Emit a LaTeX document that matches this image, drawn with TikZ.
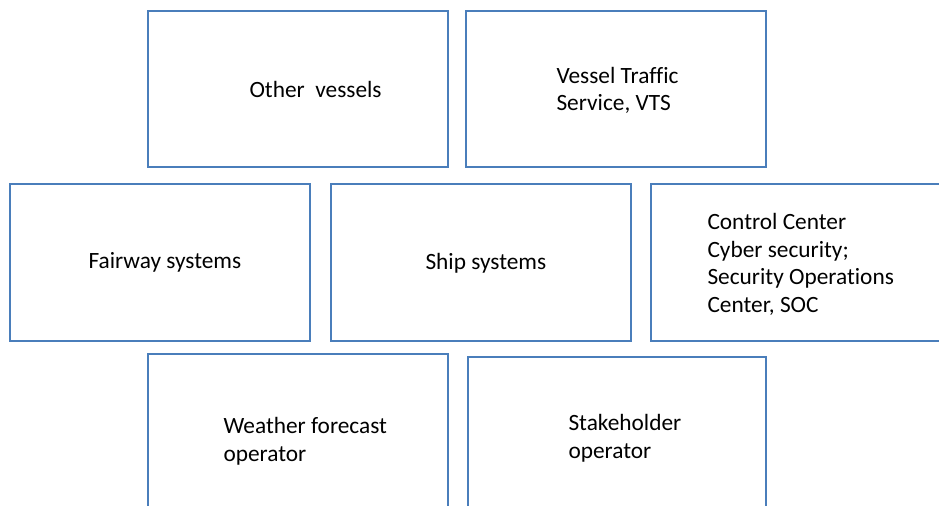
\documentclass[tikz,border=0pt]{standalone}
\usepackage{fontspec}
\setmainfont{Carlito}[Ligatures=NoCommon]
\usepackage{tikz}
\definecolor{boxblue}{RGB}{74,126,187}
\tikzset{every picture/.style={line width=0.75pt}}
\tikzset{
  frame/.style={draw=boxblue,line width=1.1pt},
  lbl/.style={anchor=base west,inner sep=0pt,align=left,font=\fontsize{17.5}{20.6}\selectfont}
}

\begin{document}
\begin{tikzpicture}[x=0.75pt,y=0.75pt,yscale=-1,xscale=1]
\clip (0,0) rectangle (939,506);
\useasboundingbox (0,0) rectangle (939,506);
% top row
\draw [frame] (148,11) rectangle (448,167);
\draw [frame] (466,11) rectangle (766,167);
% middle row
\draw [frame] (10,184) rectangle (310,341);
\draw [frame] (331,184) rectangle (631,341);
\draw [frame] (651,184) rectangle (950,341);
% bottom row
\draw [frame] (148,520) -- (148,354) -- (448,354) -- (448,520);
\draw [frame] (468,520) -- (468,357) -- (766,357) -- (766,520);
% labels (base = last line)
\node [lbl] (vessels) at (249,98) {Other\ \ vessels};
\node [lbl] (vts) at (556,111) {Vessel Traffic\\Service, VTS};
\node [lbl] (fairway) at (88,268) {Fairway systems};
\node [lbl] (ship) at (425,269) {Ship systems};
\node [lbl] (soc) at (707,312) {Control Center\\Cyber security;\\Security Operations\\Center, SOC};
\node [lbl] (weather) at (223,461) {Weather forecast\\operator};
\node [lbl] (stake) at (568,458) {Stakeholder\\operator};
\end{tikzpicture}
\end{document}
